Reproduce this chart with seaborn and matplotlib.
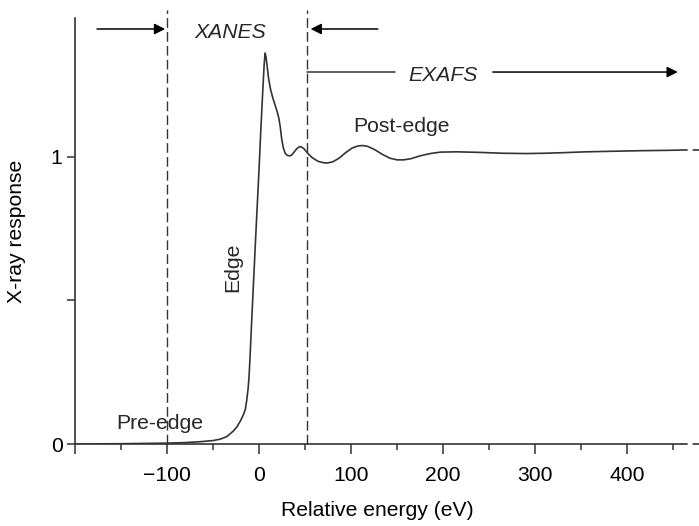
import matplotlib
matplotlib.use("Agg")
import matplotlib.pyplot as plt
import numpy as np
import pandas as pd
import seaborn as sns

# Data
energy = [-200, -150, -100, -80, -64, -50, -42, -35, -28, -24, -20, -17, -15, -13.5,
          -12, -11, -10, -9, -8, -6, -4, -2, 0, 2, 4, 5.5, 6.5, 7.5, 9, 10.5, 12.5,
          15, 17.5, 19.5, 21.5, 23, 24.7, 26.5, 28.5, 31, 33.5, 35.5, 38, 41, 44, 46,
          49, 53, 58, 64, 70, 74, 80, 87, 94, 101, 107, 112, 118, 126, 134, 142, 150, 157,
          165, 175, 186, 197, 215, 240, 265, 290, 310, 330, 355, 385, 415, 440, 458]
response = [0.0, 0.001, 0.003, 0.005, 0.008, 0.012, 0.017, 0.026, 0.045, 0.06, 0.082, 0.102,
            0.12, 0.15, 0.19, 0.23, 0.29, 0.36, 0.43, 0.565, 0.70, 0.83, 0.96, 1.10, 1.23,
            1.32, 1.362, 1.35, 1.31, 1.27, 1.235, 1.205, 1.18, 1.16, 1.135, 1.105, 1.06,
            1.03, 1.012, 1.005, 1.004, 1.007, 1.017, 1.029, 1.036, 1.035, 1.028, 1.012,
            0.997, 0.985, 0.98, 0.979, 0.983, 0.996, 1.015, 1.031, 1.038, 1.04, 1.037,
            1.025, 1.009, 0.996, 0.99, 0.99, 0.994, 1.004, 1.012, 1.017, 1.018, 1.016,
            1.013, 1.012, 1.013, 1.015, 1.018, 1.02, 1.022, 1.023, 1.024]

x_major = [-200, -100, 0, 100, 200, 300, 400]
x_major_labels = ["", "\u2212100", "0", "100", "200", "300", "400"]
x_minor = [-150, -50, 50, 150, 250, 350, 450]
y_ticks = [0, 0.5, 1]
y_tick_labels = ["0", "", "1"]
region_bounds = [-100, 52]

sns.set_theme(style="ticks")
plt.rcParams["font.family"] = ["Liberation Sans", "DejaVu Sans"]
FS = 15.2
INK = "#333333"

fig = plt.figure(figsize=(6.99, 5.26), dpi=100)
ax = fig.add_axes([75 / 699, 82 / 526, 624 / 699, 444 / 526])
ax.set_facecolor("white")

df = pd.DataFrame({"energy": energy, "response": response})
sns.lineplot(data=df, x="energy", y="response", ax=ax, color=INK, lw=1.2,
             sort=False, estimator=None)

ax.set_xlim(-200, 478)
ax.set_ylim(0, 1.547)

# dashed continuations at right end
ax.plot([458, 478], [response[-1], response[-1]], color=INK, lw=1.2,
        ls=(0, (4, 3)), clip_on=False)
ax.plot([458, 478], [0, 0], color=INK, lw=1.2, ls=(0, (4, 3)), clip_on=False)

# region boundaries
for xb in region_bounds:
    ax.plot([xb, xb], [0, 1.512], color=INK, lw=1.0, ls=(0, (7, 3)), clip_on=False)

# arrows
ap = dict(arrowstyle="-|>", color="black", lw=1.1, mutation_scale=16,
          shrinkA=0, shrinkB=0)
ax.annotate("", xy=(-102, 1.446), xytext=(-176, 1.446), arrowprops=ap)
ax.annotate("", xy=(56, 1.446), xytext=(129, 1.446), arrowprops=ap)
ax.plot([region_bounds[1], 148], [1.296, 1.296], color=INK, lw=1.1)
ax.annotate("", xy=(455, 1.296), xytext=(254, 1.296), arrowprops=ap)

ax.text(-31.5, 1.435, "XANES", style="italic", fontsize=FS, ha="center", va="center")
ax.text(200, 1.283, "EXAFS", style="italic", fontsize=FS, ha="center", va="center")
ax.text(155, 1.106, "Post-edge", fontsize=FS, ha="center", va="center")
ax.text(-108, 0.073, "Pre-edge", fontsize=FS, ha="center", va="center")
ax.text(-29, 0.615, "Edge", fontsize=FS, ha="center", va="center", rotation=90)

# axes styling
ax.set_xticks(x_major)
ax.set_xticklabels(x_major_labels, fontsize=FS)
ax.set_xticks(x_minor, minor=True)
ax.set_yticks(y_ticks)
ax.set_yticklabels(y_tick_labels, fontsize=FS)
ax.tick_params(axis="x", which="major", direction="out", length=7, width=1.1,
               color=INK, pad=9, labelcolor="black")
ax.tick_params(axis="x", which="minor", direction="out", length=4.5, width=1.1,
               color=INK)
ax.tick_params(axis="y", which="major", direction="out", length=6, width=1.1,
               color=INK, pad=3, labelcolor="black")

for s in ["top", "right"]:
    ax.spines[s].set_visible(False)
for s in ["left", "bottom"]:
    ax.spines[s].set_color(INK)
    ax.spines[s].set_linewidth(1.2)
ax.spines["bottom"].set_bounds(-200, 458)
ax.spines["left"].set_bounds(0, 1.484)

ax.set_xlabel("Relative energy (eV)", fontsize=FS, color="black", va="center")
ax.set_ylabel("X-ray response", fontsize=FS, color="black", va="center")
ax.xaxis.set_label_coords((377 - 75) / 624, (444 - 510) / 444)
ax.yaxis.set_label_coords((16.5 - 75) / 624, (444 - 231) / 444)

fig.savefig("out.png", dpi=100, facecolor="white")
